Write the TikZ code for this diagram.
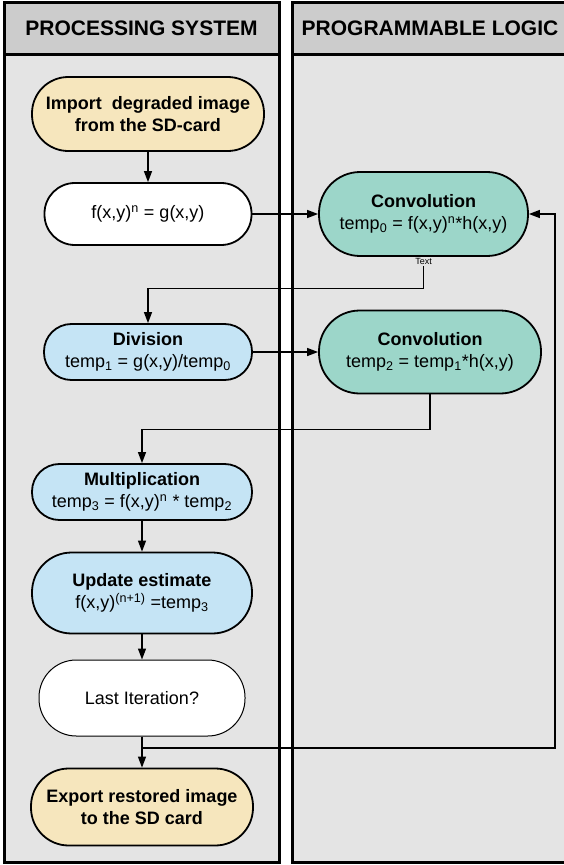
\documentclass[tikz,border=0pt]{standalone}
\usepackage{fontspec}
\setmainfont{Liberation Sans}
\usetikzlibrary{arrows.meta}

\definecolor{laneGray}{HTML}{E4E4E4}
\definecolor{headGray}{HTML}{CCCCCC}
\definecolor{cream}{HTML}{F6E6BD}
\definecolor{skyBlue}{HTML}{C5E4F5}
\definecolor{mint}{HTML}{9CD6C9}

\begin{document}
\begin{tikzpicture}[x=1pt, y=-1pt,
    lane/.style={draw, line width=3pt, fill=laneGray},
    head/.style={font=\fontsize{21}{24}\selectfont\bfseries},
    pill/.style={draw, line width=1.8pt, align=center, inner sep=0pt,
                 font=\fontsize{18}{22}\selectfont},
    yel/.style={fill=cream}, wht/.style={fill=white}, tea/.style={fill=mint},
    blu/.style={fill=skyBlue}, wq/.style={fill=white, line width=1pt},
    post/.style={-{Triangle[length=11pt,width=8pt]}, line width=1.3pt}]

   \useasboundingbox (0,0) rectangle (564,865);
   \fill[white] (0,0) rectangle (564,865);

   % swim lanes
   \draw[lane] (4,2) rectangle (279,862);
   \draw[lane] (292,2) rectangle (570,862);
   \draw[lane, fill=headGray] (4,2) rectangle (279,54);
   \draw[lane, fill=headGray] (292,2) rectangle (570,54);
   \node[head] (hPS) at (141.5,28) {PROCESSING SYSTEM};
   \node[head] (hPL) at (430,28) {PROGRAMMABLE LOGIC};

   \foreach \x/\y/\w/\h/\s/\n/\t [evaluate=\h as \r using 0.49*\h] in {
       148/114/232/74/yel/Imp/{\textbf{Import~ degraded image}\\\textbf{from the SD-card}},
       148/214/207/62/wht/F/{f(x,y)\textsuperscript{n} = g(x,y)},
       423.5/214/209/84/tea/ConvA/{\textbf{Convolution}\\temp\textsubscript{0} = f(x,y)\textsuperscript{n}*h(x,y)},
       148/352/208/56/blu/Div/{\textbf{Division}\\temp\textsubscript{1} = g(x,y)/temp\textsubscript{0}},
       430/352/222/83/tea/ConvB/{\textbf{Convolution}\\temp\textsubscript{2} = temp\textsubscript{1}*h(x,y)},
       142/492/220/56/blu/Mul/{\textbf{Multiplication}\\temp\textsubscript{3} = f(x,y)\textsuperscript{n} * temp\textsubscript{2}},
       142/593/220/81/blu/Upd/{\textbf{Update estimate}\\f(x,y)\textsuperscript{(n+1)} =temp\textsubscript{3}},
       142/698/206/76/wq/Last/{Last Iteration?},
       142/807/222/77/yel/Exp/{\textbf{Export restored image}\\\textbf{to the SD card}}}
     \node [pill, \s, minimum width=\w, minimum height=\h, rounded corners=\r pt]
        (v\n) at (\x,\y) {\t};

   \foreach \i/\j in {Imp/F, F/ConvA, Div/ConvB, Mul/Upd, Upd/Last, Last/Exp}
       \draw (v\i) edge[post] (v\j);

   \node[font=\fontsize{9}{10}\selectfont, inner sep=1.5pt] (vTxt) at (423.5,261) {Text};
   \draw[post] (vTxt.south) -- ++(0,23) -| (vDiv.north);
   \draw[post] (vConvB.south) -- ++(0,35) -| (vMul.north);
   \coordinate (cLoop) at (555,748);
   \draw[post] (vLast.south) |- (cLoop) |- (vConvA.east);

\end{tikzpicture}
\end{document}
